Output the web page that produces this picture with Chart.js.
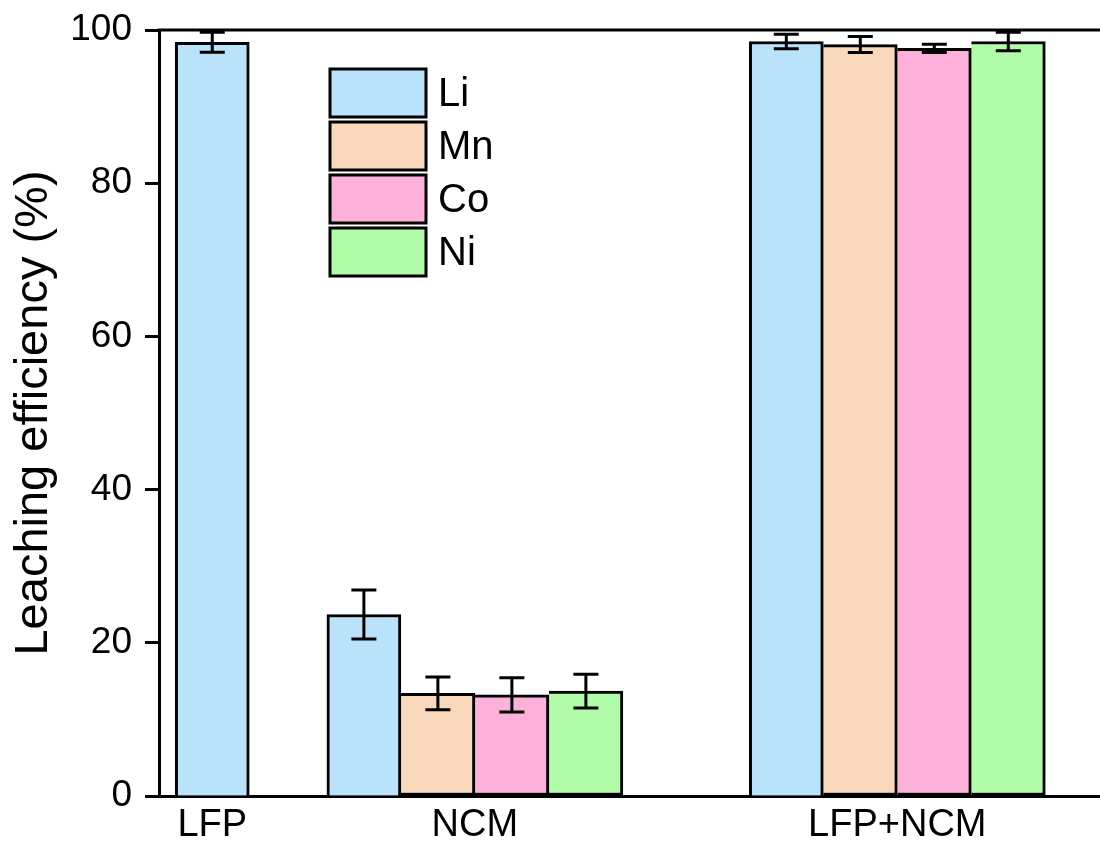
<!DOCTYPE html>
<html>
<head>
<meta charset="utf-8">
<script src="https://cdn.jsdelivr.net/npm/chart.js@4/dist/chart.umd.min.js"></script>
<style>
  html, body { margin: 0; padding: 0; background: #fff; overflow: hidden; }
  #wrap { width: 1100px; height: 848px; }
</style>
</head>
<body>
<div id="wrap"><canvas id="myChart" width="1100" height="848"></canvas></div>
<script>
// leaching efficiency per sample, one array per metal (null = not measured)
var groups = ["LFP", "NCM", "LFP+NCM"];
var metals = ["Li", "Mn", "Co", "Ni"];
var li = [98.4, 23.7, 98.5];
var mn = [null, 13.4, 98.1];
var co = [null, 13.2, 97.6];
var ni = [null, 13.7, 98.5];
var liErr = [1.3, 3.2, 0.95];
var mnErr = [null, 2.15, 1.05];
var coErr = [null, 2.25, 0.55];
var niErr = [null, 2.2, 1.2];
var yTicks = [0, 20, 40, 60, 80, 100];

var font = "'Liberation Sans', Arial, sans-serif";
var colors = ["#bae2fa", "#f9d8bb", "#fcb0da", "#b0fca8"];
var lw = 3;

// where the groups sit along the x axis (units of one bar width)
var groupX = [0.72, 4.27, 9.98];
var xMax = 12.72;

var values = [li, mn, co, ni];
var errs = [liErr, mnErr, coErr, niErr];

var datasets = [];
for (var i = 0; i < metals.length; i++) {
  datasets.push({
    label: metals[i],
    data: groupX.map(function (x, j) { return { x: x, y: values[i][j] }; }),
    errs: errs[i],
    backgroundColor: colors[i],
    borderColor: "#000",
    borderWidth: lw,
    borderSkipped: i == 0 ? "start" : "left",
    barThickness: 74,
    skipNull: true
  });
}

// error bars + top frame line + legend box
var extras = {
  id: "extras",
  afterDatasetsDraw: function (chart) {
    var ctx = chart.ctx;
    var ys = chart.scales.y;
    var area = chart.chartArea;
    ctx.save();
    ctx.strokeStyle = "#000";
    ctx.lineWidth = lw;
    // top frame
    ctx.beginPath();
    ctx.moveTo(area.left - 1.5, area.top);
    ctx.lineTo(area.right, area.top);
    ctx.stroke();
    // error bars
    chart.data.datasets.forEach(function (ds, di) {
      var meta = chart.getDatasetMeta(di);
      meta.data.forEach(function (bar, j) {
        var v = ds.data[j].y, e = ds.errs[j];
        if (v == null || e == null) return;
        var yt = ys.getPixelForValue(v + e);
        var yb = ys.getPixelForValue(v - e);
        var x = bar.x, w = 12.5;
        ctx.beginPath();
        ctx.moveTo(x, yt); ctx.lineTo(x, yb);
        ctx.moveTo(x - w, yt); ctx.lineTo(x + w, yt);
        ctx.moveTo(x - w, yb); ctx.lineTo(x + w, yb);
        ctx.stroke();
      });
    });
    // legend
    var lx = area.left + 171, ly = area.top + 39;
    ctx.font = "40px " + font;
    ctx.textBaseline = "middle";
    ctx.textAlign = "left";
    chart.data.datasets.forEach(function (ds, di) {
      var y0 = ly + di * 53;
      ctx.fillStyle = ds.backgroundColor;
      ctx.fillRect(lx, y0, 96, 48);
      ctx.strokeRect(lx, y0, 96, 48);
      ctx.fillStyle = "#000";
      ctx.fillText(ds.label, lx + 108, y0 + 26);
    });
    ctx.restore();
  }
};

new Chart("myChart", {
  type: "bar",
  data: { datasets: datasets },
  options: {
    responsive: false,
    animation: false,
    layout: { padding: { top: 30, left: 0, right: 0, bottom: 0 } },
    plugins: { legend: { display: false }, tooltip: { enabled: false } },
    scales: {
      x: {
        type: "linear",
        min: 0,
        max: xMax,
        offset: false,
        grid: { display: false, drawTicks: false },
        border: { display: true, color: "#000", width: lw },
        afterBuildTicks: function (axis) {
          axis.ticks = groupX.map(function (v) { return { value: v }; });
        },
        afterFit: function (axis) {
          axis.height = 52;
          axis.paddingLeft = 0; axis.paddingRight = 0;
        },
        ticks: {
          autoSkip: false,
          maxRotation: 0,
          padding: 7,
          color: "#000",
          font: { family: font, size: 38 },
          callback: function (v, i) { return groups[i]; }
        }
      },
      y: {
        min: 0,
        max: 100,
        afterBuildTicks: function (axis) {
          axis.ticks = yTicks.map(function (v) { return { value: v }; });
        },
        afterFit: function (axis) {
          axis.width = 159;
          axis.paddingTop = 0; axis.paddingBottom = 0;
        },
        grid: { drawOnChartArea: false, drawTicks: true, tickLength: 14, tickColor: "#000", tickWidth: lw },
        border: { display: true, color: "#000", width: lw },
        ticks: {
          padding: 13,
          color: "#000",
          font: { family: font, size: 37 }
        },
        title: {
          display: true,
          text: "Leaching efficiency (%)",
          color: "#000",
          font: { family: font, size: 47 },
          padding: { top: 6, bottom: 0 }
        }
      }
    }
  },
  plugins: [extras]
});
</script>
</body>
</html>
